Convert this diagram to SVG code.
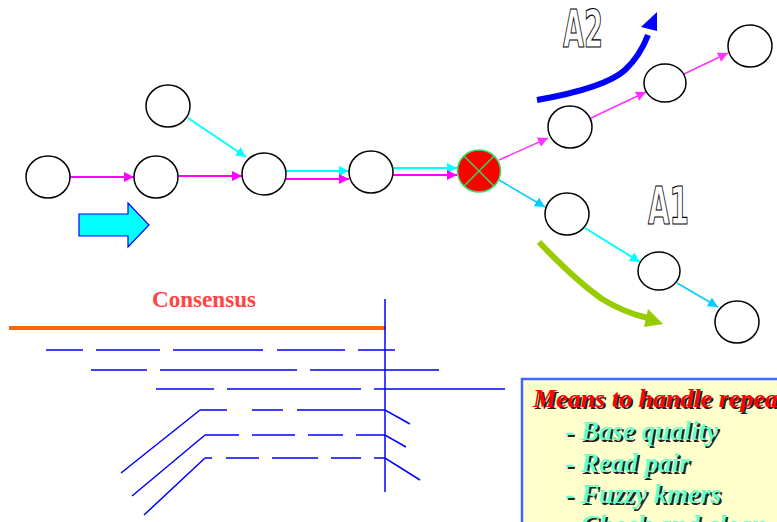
<svg xmlns="http://www.w3.org/2000/svg" width="777" height="522" viewBox="0 0 777 522">
  <defs>
    <marker id="hMag" viewBox="0 0 10 10" refX="10" refY="5" markerWidth="10" markerHeight="10" markerUnits="userSpaceOnUse" orient="auto">
      <path d="M0,0 L10,5 L0,10 Z" fill="#FF00FF"/>
    </marker>
    <marker id="hPink" viewBox="0 0 10 10" refX="10" refY="5" markerWidth="10" markerHeight="10" markerUnits="userSpaceOnUse" orient="auto">
      <path d="M0,0 L10,5 L0,10 Z" fill="#FF33FF"/>
    </marker>
    <marker id="hCyan" viewBox="0 0 10 10" refX="10" refY="5" markerWidth="10" markerHeight="10" markerUnits="userSpaceOnUse" orient="auto">
      <path d="M0,0 L10,5 L0,10 Z" fill="#00FFFF"/>
    </marker>
    <marker id="hSky" viewBox="0 0 10 10" refX="10" refY="5" markerWidth="10" markerHeight="10" markerUnits="userSpaceOnUse" orient="auto">
      <path d="M0,0 L10,5 L0,10 Z" fill="#00CCFF"/>
    </marker>
  </defs>
  <style>
    .node { fill: #FFFFFF; stroke: #000000; stroke-width: 1.5; }
    .mag { stroke: #FF00FF; stroke-width: 2; fill: none; marker-end: url(#hMag); }
    .pink { stroke: #FF33FF; stroke-width: 1.5; fill: none; marker-end: url(#hPink); }
    .cyan { stroke: #00FFFF; stroke-width: 2; fill: none; marker-end: url(#hCyan); }
    .sky { stroke: #00CCFF; stroke-width: 1.5; fill: none; marker-end: url(#hSky); }
    .big { font-family: "Liberation Sans Narrow", "DejaVu Sans Condensed", "Liberation Sans", sans-serif; font-weight: bold; font-size: 52px; fill: #FFFFFF; stroke: #000000; stroke-width: 1.2; }
    .read { stroke: #0000FF; stroke-width: 1.5; fill: none; }
    .box { font-family: "Liberation Serif", "DejaVu Serif", serif; font-weight: bold; font-style: italic; font-size: 27px; }
    .shadow { fill: #222222; }
  </style>

  <!-- connectors -->
  <g id="connectors">
    <line class="mag" x1="70" y1="177" x2="134" y2="177"/>
    <line class="mag" x1="178" y1="176" x2="242" y2="176"/>
    <line class="cyan" x1="188" y1="118" x2="246" y2="157"/>
    <line class="cyan" x1="286" y1="171" x2="349" y2="171"/>
    <line class="mag" x1="286" y1="179" x2="349" y2="179"/>
    <line class="cyan" x1="393" y1="168" x2="457" y2="168"/>
    <line class="mag" x1="393" y1="175" x2="457" y2="175"/>
    <line class="pink" x1="499" y1="160" x2="548" y2="138"/>
    <line class="pink" x1="591" y1="118" x2="646" y2="92"/>
    <line class="pink" x1="684" y1="74" x2="728" y2="53"/>
    <line class="sky" x1="499" y1="180" x2="545" y2="207"/>
    <line class="cyan" x1="585" y1="228" x2="640" y2="262"/>
    <line class="sky" x1="677" y1="283" x2="718" y2="307"/>
  </g>

  <!-- nodes -->
  <g id="n1"><ellipse class="node" cx="48" cy="177" rx="22" ry="21"/></g>
  <g id="n2"><ellipse class="node" cx="156" cy="177" rx="22" ry="21"/></g>
  <g id="n-top"><ellipse class="node" cx="168" cy="106" rx="22" ry="21"/></g>
  <g id="n3"><ellipse class="node" cx="264" cy="174" rx="22" ry="21"/></g>
  <g id="n4"><ellipse class="node" cx="371" cy="172" rx="22" ry="21"/></g>
  <g id="repeat">
    <ellipse cx="479" cy="171" rx="21.5" ry="21" fill="#FF0000" stroke="#33DD66" stroke-width="1.5"/>
    <line x1="464" y1="156" x2="494" y2="186" stroke="#33DD66" stroke-width="1.5"/>
    <line x1="494" y1="156" x2="464" y2="186" stroke="#33DD66" stroke-width="1.5"/>
  </g>
  <g id="a2-1"><ellipse class="node" cx="570" cy="127" rx="22" ry="21"/></g>
  <g id="a2-2"><ellipse class="node" cx="665" cy="83" rx="21" ry="19"/></g>
  <g id="a2-3"><ellipse class="node" cx="750" cy="46" rx="22" ry="21"/></g>
  <g id="a1-1"><ellipse class="node" cx="567" cy="214" rx="22" ry="21"/></g>
  <g id="a1-2"><ellipse class="node" cx="659" cy="271" rx="21" ry="19"/></g>
  <g id="a1-3"><ellipse class="node" cx="737" cy="322" rx="22" ry="21"/></g>

  <!-- direction arrow -->
  <g id="direction">
    <path d="M79,214 L128,214 L128,203 L149,225 L128,247 L128,236 L79,236 Z" fill="#00FFFF" stroke="#0000FF" stroke-width="1.2"/>
  </g>

  <!-- path choices -->
  <g id="path-a2">
    <path d="M537,100 Q605,88 625,70 Q640,56 648,35" fill="none" stroke="#0000FF" stroke-width="6"/>
    <path d="M657,12 L641,27 L657,31 Z" fill="#0000FF"/>
    <text class="big" x="563" y="47" textLength="40" lengthAdjust="spacingAndGlyphs">A2</text>
  </g>
  <g id="path-a1">
    <path d="M539,242 Q575,280 602,299 Q625,313 648,318" fill="none" stroke="#99CC00" stroke-width="6"/>
    <path d="M663,324 L648,309 L644,327 Z" fill="#99CC00"/>
    <text class="big" x="648" y="224" textLength="41" lengthAdjust="spacingAndGlyphs">A1</text>
  </g>

  <!-- read alignment to consensus -->
  <g id="alignment">
    <text x="152" y="307" font-family="'Liberation Serif', 'DejaVu Serif', serif" font-weight="bold" font-size="23" fill="#FF4444" textLength="104" lengthAdjust="spacingAndGlyphs">Consensus</text>
    <line x1="9" y1="328" x2="386" y2="328" stroke="#FF6600" stroke-width="4"/>
    <line class="read" x1="385" y1="299" x2="385" y2="492"/>
    <path class="read" d="M46,350H83 M96,350H160 M173,350H263 M277,350H345 M358,350H395"/>
    <path class="read" d="M91,370H147 M160,370H297 M310,370H439"/>
    <path class="read" d="M156,389H214 M227,389H361 M374,389H505"/>
    <path class="read" d="M121,473L200,410 M200,410H227 M252,410H283 M297,410H385L410,424"/>
    <path class="read" d="M132,496L205,435 M205,435H239 M252,435H295 M308,435H343 M356,435H385L406,447"/>
    <path class="read" d="M144,515L205,458 M205,458H212 M226,458H259 M272,458H318 M331,458H361 M374,458H385L420,480"/>
  </g>

  <!-- notes box -->
  <g id="notes">
    <rect x="522" y="379" width="270" height="160" fill="#FFFFCC" stroke="#4466FF" stroke-width="2.5"/>
    <g class="box shadow" transform="translate(2,2)">
      <text x="533" y="407" font-size="26">Means to handle repeats</text>
      <text x="565" y="440">- Base quality</text>
      <text x="565" y="472">- Read pair</text>
      <text x="565" y="503">- Fuzzy kmers</text>
      <text x="565" y="534">- Check and clean</text>
    </g>
    <g class="box">
      <text x="533" y="407" font-size="26" fill="#FF0000">Means to handle repeats</text>
      <text x="565" y="440" fill="#66FFCC">- Base quality</text>
      <text x="565" y="472" fill="#66FFCC">- Read pair</text>
      <text x="565" y="503" fill="#66FFCC">- Fuzzy kmers</text>
      <text x="565" y="534" fill="#66FFCC">- Check and clean</text>
    </g>
  </g>
</svg>
